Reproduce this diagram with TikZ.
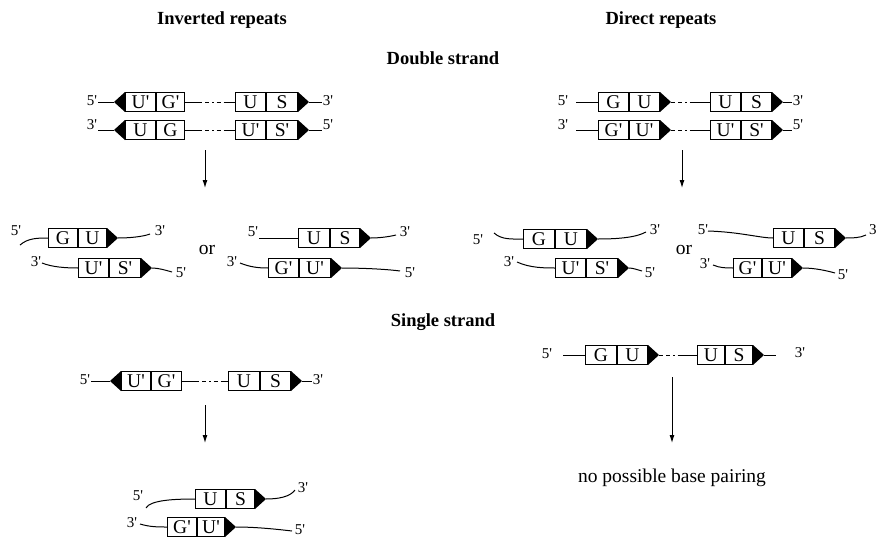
\documentclass[tikz,border=0pt]{standalone}
\usepackage{fontspec}
\setmainfont{Liberation Serif}
\usetikzlibrary{arrows.meta,calc}
\newcommand\q{\textquotesingle}
\tikzset{
 cell/.style={draw, line width=1pt, minimum height=19pt, inner sep=0pt, anchor=west, font=\fontsize{19.5}{19.5}\selectfont},
 lab/.style={inner sep=1pt, font=\fontsize{15}{15}\selectfont},
 ttl/.style={inner sep=0pt, font=\bfseries\fontsize{18.5}{18.5}\selectfont},
 txt/.style={inner sep=0pt, font=\fontsize{19.5}{19.5}\selectfont},
 strand/.style={line width=1pt},
 gapA/.style={strand, dash pattern=on 17pt off 3pt on 4pt off 3pt on 1.5pt off 3pt on 4pt off 3pt on 60pt},
 gapB/.style={strand, dash pattern=on 4pt off 3pt on 4pt off 3pt on 1.5pt off 3pt on 60pt},
 arr/.style={line width=1pt, -{Latex[length=8pt,width=5pt]}},
}
\newcommand\pairbox[7]{%
 \node[cell,minimum width=#4pt] (#1a) at (#2,#3) {#6};
 \node[cell,minimum width=#5pt] (#1b) at (#1a.east) {#7};}
\newcommand\tipR[2]{%
 \coordinate (#2) at ($(#1.east)+(11,0)$);
 \fill (#1.north east) -- (#2) -- (#1.south east) -- cycle;}
\newcommand\tipL[2]{%
 \coordinate (#2) at ($(#1.west)+(-11,0)$);
 \fill (#1.north west) -- (#2) -- (#1.south west) -- cycle;}
\begin{document}
\begin{tikzpicture}[x=1pt,y=-1pt]
\useasboundingbox (0,0) rectangle (876,538);
% titles
\node[ttl] (t1) at (222,20) {Inverted repeats};
\node[ttl] (t2) at (661,20) {Direct repeats};
\node[ttl] (t3) at (443,58) {Double strand};
\node[ttl] (t4) at (443,322) {Single strand};

% ---------- inverted, double strand ----------
\pairbox{a1p}{125}{102}{30}{28}{U\q}{G\q}
\pairbox{a1q}{235}{102}{30}{31}{U}{S}
\tipL{a1pa}{a1t1}
\tipR{a1qb}{a1t2}
\node[lab] (a1l) at (92,101) {5\q};
\node[lab] (a1r) at (328,101) {3\q};
\draw[strand] (a1l.east |- a1t1) -- (a1t1);
\draw[gapA] (a1pb.east) -- (a1qa.west);
\draw[strand] (a1t2) -- (a1r.west |- a1t2);

\pairbox{a2p}{125}{130}{30}{28}{U}{G}
\pairbox{a2q}{235}{130}{30}{31}{U\q}{S\q}
\tipL{a2pa}{a2t1}
\tipR{a2qb}{a2t2}
\node[lab] (a2l) at (92,125) {3\q};
\node[lab] (a2r) at (328,125) {5\q};
\draw[strand] (a2l.east |- a2t1) -- (a2t1);
\draw[gapA] (a2pb.east) -- (a2qa.west);
\draw[strand] (a2t2) -- (a2r.west |- a2t2);

\coordinate (ar1s) at (205,150);
\coordinate (ar1e) at (205,188);
\draw[arr] (ar1s) -- (ar1e);

% products (inverted)
\pairbox{b1}{48}{238}{29}{28}{G}{U}
\tipR{b1b}{b1t}
\node[lab] (b1l) at (16,231) {5\q};
\node[lab] (b1r) at (160,231) {3\q};
\coordinate (b1s) at (20,245);
\coordinate (b1e) at (150,234);
\draw[strand] (b1s) .. controls (28,238) and (38,238) .. (b1a.west);
\draw[strand] (b1t) .. controls (128,238) and (142,237) .. (b1e);

\pairbox{b2}{78}{268}{30}{31}{U\q}{S\q}
\tipR{b2b}{b2t}
\node[lab] (b2l) at (36,262) {3\q};
\node[lab] (b2r) at (181,273) {5\q};
\coordinate (b2s) at (42,263);
\coordinate (b2e) at (172,272);
\draw[strand] (b2s) .. controls (52,267) and (65,268) .. (b2a.west);
\draw[strand] (b2t) .. controls (158,268) and (165,270) .. (b2e);

\node[txt] (or1) at (207,250) {or};

\pairbox{b3}{298}{238}{31}{29}{U}{S}
\tipR{b3b}{b3t}
\node[lab] (b3l) at (253,232) {5\q};
\node[lab] (b3r) at (405,232) {3\q};
\coordinate (b3s) at (259,238);
\coordinate (b3e) at (396,235);
\draw[strand] (b3s) -- (b3a.west);
\draw[strand] (b3t) .. controls (378,238) and (388,237) .. (b3e);

\pairbox{b4}{268}{268}{30}{31}{G\q}{U\q}
\tipR{b4b}{b4t}
\node[lab] (b4l) at (232,262) {3\q};
\node[lab] (b4r) at (410,273) {5\q};
\coordinate (b4s) at (240,263);
\coordinate (b4e) at (400,271);
\draw[strand] (b4s) .. controls (250,267) and (258,268) .. (b4a.west);
\draw[strand] (b4t) .. controls (360,268) and (385,269) .. (b4e);

% ---------- direct, double strand ----------
\pairbox{d1p}{598}{102}{30}{30}{G}{U}
\pairbox{d1q}{710}{102}{30}{30}{U}{S}
\tipR{d1pb}{d1t1}
\tipR{d1qb}{d1t2}
\node[lab] (d1l) at (563,101) {5\q};
\node[lab] (d1r) at (798,101) {3\q};
\coordinate (d1s) at (576,102);
\draw[strand] (d1s) -- (d1pa.west);
\draw[gapB] (d1t1) -- (d1qa.west);
\draw[strand] (d1t2) -- (d1r.west |- d1t2);

\pairbox{d2p}{598}{130}{30}{30}{G\q}{U\q}
\pairbox{d2q}{710}{130}{30}{30}{U\q}{S\q}
\tipR{d2pb}{d2t1}
\tipR{d2qb}{d2t2}
\node[lab] (d2l) at (563,125) {3\q};
\node[lab] (d2r) at (798,125) {5\q};
\coordinate (d2s) at (576,130);
\draw[strand] (d2s) -- (d2pa.west);
\draw[gapB] (d2t1) -- (d2qa.west);
\draw[strand] (d2t2) -- (d2r.west |- d2t2);

\coordinate (ar2s) at (682,150);
\coordinate (ar2e) at (682,188);
\draw[arr] (ar2s) -- (ar2e);

% products (direct)
\pairbox{c1}{523}{239}{31}{31}{G}{U}
\tipR{c1b}{c1t}
\node[lab] (c1l) at (478,240) {5\q};
\node[lab] (c1r) at (655,230) {3\q};
\coordinate (c1s) at (494,233);
\coordinate (c1e) at (646,232);
\draw[strand] (c1s) .. controls (502,240) and (512,239) .. (c1a.west);
\draw[strand] (c1t) .. controls (615,239) and (635,238) .. (c1e);

\pairbox{c2}{555}{268}{30}{31}{U\q}{S\q}
\tipR{c2b}{c2t}
\node[lab] (c2l) at (509,262) {3\q};
\node[lab] (c2r) at (650,273) {5\q};
\coordinate (c2s) at (517,262);
\coordinate (c2e) at (642,271);
\draw[strand] (c2s) .. controls (530,268) and (545,268) .. (c2a.west);
\draw[strand] (c2t) .. controls (633,268) and (638,270) .. (c2e);

\node[txt] (or2) at (684,250) {or};

\pairbox{c3}{773}{238}{30}{30}{U}{S}
\tipR{c3b}{c3t}
\node[lab] (c3l) at (703,230) {5\q};
\node[lab, anchor=west] (c3r) at (868,230) {3\q};
\coordinate (c3s) at (708,231);
\coordinate (c3e) at (866,235);
\draw[strand] (c3s) .. controls (740,232) and (760,238) .. (c3a.west);
\draw[strand] (c3t) .. controls (852,238) and (860,238) .. (c3e);

\pairbox{c4}{733}{268}{28}{29}{G\q}{U\q}
\tipR{c4b}{c4t}
\node[lab] (c4l) at (705,264) {3\q};
\node[lab] (c4r) at (843,275) {5\q};
\coordinate (c4s) at (713,265);
\coordinate (c4e) at (835,273);
\draw[strand] (c4s) .. controls (720,268) and (726,268) .. (c4a.west);
\draw[strand] (c4t) .. controls (815,268) and (828,271) .. (c4e);

% ---------- inverted, single strand ----------
\pairbox{e1p}{121}{381}{29}{30}{U\q}{G\q}
\pairbox{e1q}{228}{381}{31}{30}{U}{S}
\tipL{e1pa}{e1t1}
\tipR{e1qb}{e1t2}
\node[lab] (e1l) at (85,380) {5\q};
\node[lab] (e1r) at (318,380) {3\q};
\draw[strand] (e1l.east |- e1t1) -- (e1t1);
\draw[gapA] (e1pb.east) -- (e1qa.west);
\draw[strand] (e1t2) -- (e1r.west |- e1t2);

\coordinate (ar3s) at (205,405);
\coordinate (ar3e) at (205,443);
\draw[arr] (ar3s) -- (ar3e);

\pairbox{f1}{195}{499}{30}{28}{U}{S}
\tipR{f1b}{f1t}
\node[lab] (f1l) at (138,496) {5\q};
\node[lab] (f1r) at (303,488) {3\q};
\coordinate (f1s) at (146,508);
\coordinate (f1e) at (295,490);
\draw[strand] (f1s) .. controls (150,500) and (175,499) .. (f1a.west);
\draw[strand] (f1t) .. controls (278,499) and (290,497) .. (f1e);

\pairbox{f2}{167}{527}{29}{27}{G\q}{U\q}
\tipR{f2b}{f2t}
\node[lab] (f2l) at (132,523) {3\q};
\node[lab] (f2r) at (300,530) {5\q};
\coordinate (f2s) at (140,524);
\coordinate (f2e) at (292,531);
\draw[strand] (f2s) .. controls (150,527) and (158,527) .. (f2a.west);
\draw[strand] (f2t) .. controls (255,527) and (275,529) .. (f2e);

% ---------- direct, single strand ----------
\pairbox{g1p}{585}{355}{31}{30}{G}{U}
\pairbox{g1q}{697}{355}{27}{27}{U}{S}
\tipR{g1pb}{g1t1}
\tipR{g1qb}{g1t2}
\node[lab] (g1l) at (547,354) {5\q};
\node[lab] (g1r) at (800,353) {3\q};
\coordinate (g1s) at (563,355);
\draw[strand] (g1s) -- (g1pa.west);
\draw[gapB] (g1t1) -- (g1qa.west);
\coordinate (g1e) at (776,355);
\draw[strand] (g1t2) -- (g1e);

\coordinate (ar4s) at (672,377);
\coordinate (ar4e) at (672,443);
\draw[arr] (ar4s) -- (ar4e);

\node[txt] (np) at (672,478) {no possible base pairing};
\end{tikzpicture}
\end{document}
